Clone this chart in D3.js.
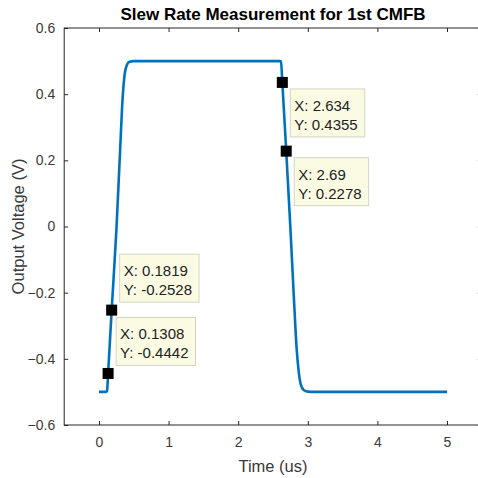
<!DOCTYPE html>
<html>
<head>
<meta charset="utf-8">
<script src="https://cdn.jsdelivr.net/npm/d3@7"></script>
<style>
  html, body { margin: 0; padding: 0; background: #fff; }
  svg { display: block; font-family: Arial, "Liberation Sans", Helvetica, sans-serif; }
</style>
</head>
<body>
<svg id="chart" width="478" height="478"></svg>
<script>
// Output waveform of the 1st CMFB loop (time in us, voltage in V)
const timeUs = [0, 0.05, 0.10, 0.115, 0.1308, 0.1819, 0.25, 0.30, 0.34, 0.37, 0.40, 0.44, 0.50,
                1.0, 1.5, 2.0, 2.5, 2.60, 2.615, 2.634, 2.69, 2.75, 2.80, 2.84, 2.87, 2.90, 2.94,
                3.00, 3.10, 3.5, 4.0, 4.5, 5.0];
const voltage = [-0.5, -0.5, -0.5, -0.498, -0.4442, -0.2528, -0.01, 0.215, 0.39, 0.462, 0.488, 0.498, 0.5,
                 0.5, 0.5, 0.5, 0.5, 0.5, 0.499, 0.4355, 0.2278, -0.005, -0.215, -0.37, -0.44, -0.478, -0.494,
                 -0.499, -0.5, -0.5, -0.5, -0.5, -0.5];

// Data tips placed on the curve
const tipX = [2.634, 2.69, 0.1819, 0.1308];
const tipY = [0.4355, 0.2278, -0.2528, -0.4442];
const tipSide = ["below", "below", "above", "above"];

// Axis ticks and labels
const xTicks = [0, 1, 2, 3, 4, 5];
const yTicks = [-0.6, -0.4, -0.2, 0, 0.2, 0.4, 0.6];
const titleText = "Slew Rate Measurement for 1st CMFB";
const xLabel = "Time (us)";
const yLabel = "Output Voltage (V)";

(function draw() {
  const svg = d3.select("#chart");
  const left = 64.2, right = 481.8, top = 28, bottom = 425;

  const x = d3.scaleLinear().domain([-0.5, 5.5]).range([left, right]);
  const y = d3.scaleLinear().domain([-0.6, 0.6]).range([bottom, top]);

  const axisColor = "#262626";
  const tickLen = 4;

  // Bottom and left axes with inward ticks
  svg.append("g")
    .attr("transform", `translate(0,${bottom})`)
    .call(d3.axisBottom(x).tickValues(xTicks).tickSizeInner(-tickLen).tickSizeOuter(0).tickPadding(12)
      .tickFormat(d3.format("d")));
  svg.append("g")
    .attr("transform", `translate(${left},0)`)
    .call(d3.axisLeft(y).tickValues(yTicks).tickSizeInner(-tickLen).tickSizeOuter(0).tickPadding(9)
      .tickFormat(d => d === 0 ? "0" : d3.format(".1f")(d)));
  // Top and right mirrored ticks
  svg.append("g")
    .attr("transform", `translate(0,${top})`)
    .call(d3.axisTop(x).tickValues(xTicks).tickSizeInner(-tickLen).tickSizeOuter(0).tickFormat(""));
  svg.append("g")
    .attr("transform", `translate(${right},0)`)
    .call(d3.axisRight(y).tickValues(yTicks).tickSizeInner(-tickLen).tickSizeOuter(0).tickFormat(""));

  svg.selectAll(".domain").remove();
  svg.selectAll(".tick line").attr("stroke", axisColor).attr("stroke-width", 1);
  svg.selectAll(".tick text").attr("fill", "#3a3a3a").attr("font-size", 14)
    .attr("font-family", "Arial, 'Liberation Sans', sans-serif");

  // Axes box
  svg.append("rect")
    .attr("x", left).attr("y", top)
    .attr("width", right - left).attr("height", bottom - top)
    .attr("fill", "none").attr("stroke", axisColor).attr("stroke-width", 1);

  // Waveform
  const pts = timeUs.map((t, i) => [t, voltage[i]]);
  svg.append("path")
    .datum(pts)
    .attr("fill", "none")
    .attr("stroke", "#0072BD")
    .attr("stroke-width", 2.6)
    .attr("stroke-linejoin", "round")
    .attr("d", d3.line().x(d => x(d[0])).y(d => y(d[1])).curve(d3.curveMonotoneX));

  // Title and axis labels
  svg.append("text")
    .attr("x", (left + right) / 2).attr("y", 20)
    .attr("text-anchor", "middle")
    .attr("font-size", 17).attr("font-weight", "bold").attr("fill", "#000")
    .text(titleText);
  svg.append("text")
    .attr("x", 273).attr("y", 472)
    .attr("text-anchor", "middle")
    .attr("font-size", 16.5).attr("fill", "#3a3a3a")
    .text(xLabel);
  svg.append("text")
    .attr("transform", `translate(24,${(top + bottom) / 2}) rotate(-90)`)
    .attr("text-anchor", "middle")
    .attr("font-size", 16.5).attr("fill", "#3a3a3a")
    .text(yLabel);

  // Data tips: marker square plus a two-line readout box
  const tips = svg.append("g");
  tipX.forEach((tx, i) => {
    const px = x(tx), py = y(tipY[i]);
    const boxH = 48;
    const bx = px + 8;
    const by = tipSide[i] === "below" ? py + 6.5 : py - 8 - boxH;
    const g = tips.append("g");
    const rect = g.append("rect")
      .attr("x", bx).attr("y", by).attr("height", boxH)
      .attr("fill", "#fbfbe4").attr("stroke", "#d4d4c4").attr("stroke-width", 1);
    const t1 = g.append("text").attr("x", bx + 4).attr("y", by + 22)
      .attr("font-size", 15).attr("fill", "#222").text("X: " + tx);
    const t2 = g.append("text").attr("x", bx + 4).attr("y", by + 41)
      .attr("font-size", 15).attr("fill", "#222").text("Y: " + tipY[i]);
    const w = Math.max(t1.node().getComputedTextLength(), t2.node().getComputedTextLength());
    rect.attr("width", w + 11);
    g.append("rect")
      .attr("x", px - 5.5).attr("y", py - 5.5)
      .attr("width", 11).attr("height", 11)
      .attr("fill", "#000");
  });
})();
</script>
</body>
</html>
